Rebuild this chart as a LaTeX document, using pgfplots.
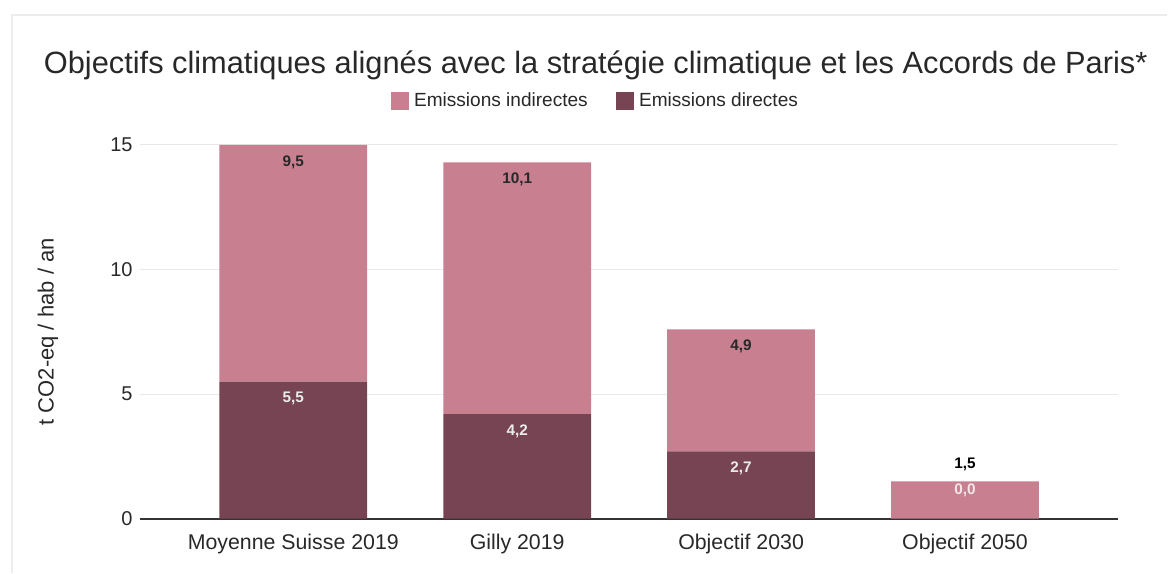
\documentclass[border=0pt]{standalone}
\usepackage{pgfplots}
\pgfplotsset{compat=1.18}
\usepackage{pgfplotstable}
\usepackage{fontspec}
\setmainfont{Liberation Sans}
\definecolor{indir}{RGB}{200,128,144}
\definecolor{dir}{RGB}{118,68,82}
\definecolor{txt}{RGB}{40,40,40}
\pgfplotstableread{
x direct indirect
0 5.5 9.5
1 4.2 10.1
2 2.7 4.9
3 0.0 1.5
}\data
\tikzset{blab/.style={font=\bfseries\fontsize{11.5}{13}\selectfont}}
\begin{document}
\begin{tikzpicture}
\begin{axis}[
  scale only axis,
  width=734.25pt, height=280.5pt,
  ybar stacked, bar width=0.66,
  xmin=-0.685, xmax=3.685,
  ymin=0, ymax=15,
  xtick={0,1,2,3},
  xticklabels={Moyenne Suisse 2019,Gilly 2019,Objectif 2030,Objectif 2050},
  ytick={0,5,10,15},
  major tick length=0pt,
  axis x line*=bottom, axis y line*=left,
  y axis line style={draw=none},
  x axis line style={-, draw=black!80, line width=1.3pt},
  ymajorgrids, grid style={gray!18, line width=0.8pt},
  xticklabel style={font=\fontsize{16}{19}\selectfont, text=txt, yshift=-8pt},
  yticklabel style={font=\fontsize{15}{18}\selectfont, text=txt, xshift=-2pt},
  /pgf/number format/assume math mode=true,
  ylabel={t CO2-eq / hab / an},
  ylabel style={font=\fontsize{16.5}{19}\selectfont, text=txt, at={(axis description cs:-0.094,0.5)}, anchor=center},
  legend columns=2,
  legend style={at={(0.4658,1.1176)}, anchor=center, draw=none, fill=none,
    font=\fontsize{14.3}{16}\selectfont, text=txt,
    /tikz/every even column/.append style={column sep=19pt},
    /tikz/every odd column/.append style={column sep=2pt}},
  legend image code/.code={\fill[#1] (0pt,-6.5pt) rectangle (13.5pt,6.5pt);},
  clip=false,
]
\addplot[fill=dir, draw=none, forget plot] table[x=x,y=direct]{\data};
\addplot[fill=indir, draw=none] table[x=x,y=indirect]{\data};
\addlegendentry{Emissions indirectes}
\addlegendimage{fill=dir, draw=none}
\addlegendentry{Emissions directes}
\coordinate (t0) at (axis cs:0,15);
\coordinate (t1) at (axis cs:1,14.3);
\coordinate (t2) at (axis cs:2,7.6);
\coordinate (t3) at (axis cs:3,1.5);
\coordinate (d0) at (axis cs:0,5.5);
\coordinate (d1) at (axis cs:1,4.2);
\coordinate (d2) at (axis cs:2,2.7);
\node[font=\fontsize{23.1}{26}\selectfont, text=txt, anchor=base, yshift=53.25pt] at (rel axis cs:0.4658,1) {Objectifs climatiques alignés avec la stratégie climatique et les Accords de Paris*};
\draw[gray!15, line width=1pt] ([xshift=-96pt,yshift=-40.5pt]rel axis cs:0,0) -- ([xshift=-96pt,yshift=97.5pt]rel axis cs:0,1) -- ([xshift=36.75pt,yshift=97.5pt]rel axis cs:1,1);
\path ([xshift=-105pt,yshift=-40.5pt]rel axis cs:0,0) rectangle ([xshift=36.75pt,yshift=108.75pt]rel axis cs:1,1);
\end{axis}
\node[blab, text=txt, yshift=-12.75pt] at (t0) {9,5};
\node[blab, text=txt, yshift=-12.75pt] at (t1) {10,1};
\node[blab, text=txt, yshift=-12.75pt] at (t2) {4,9};
\node[blab, text=black, yshift=12.75pt] at (t3) {1,5};
\node[blab, text=white!92!black, yshift=-12.75pt] at (d0) {5,5};
\node[blab, text=white!92!black, yshift=-12.75pt] at (d1) {4,2};
\node[blab, text=white!92!black, yshift=-12.75pt] at (d2) {2,7};
\node[blab, text=white!80!indir, yshift=-6.75pt] at (t3) {0,0};
\end{tikzpicture}
\end{document}
